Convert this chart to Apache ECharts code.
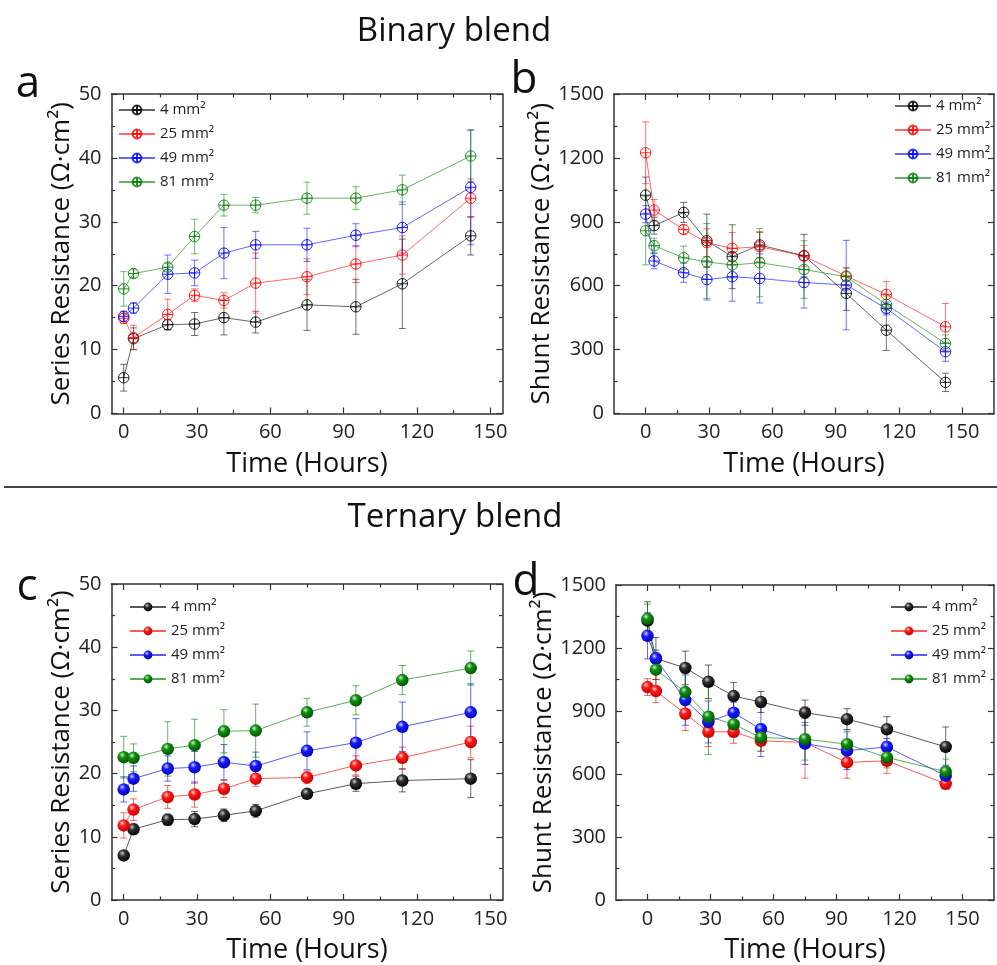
<!DOCTYPE html>
<html>
<head>
<meta charset="utf-8">
<script src="https://cdn.jsdelivr.net/npm/echarts@6/dist/echarts.min.js"></script>
<style>
html,body{margin:0;padding:0;background:#fff;}
#chart{width:997px;height:965px;}
</style>
</head>
<body>
<div id="chart"></div>
<script>
// ---------------- DATA ----------------
const hours = [0, 4, 18, 29, 41, 54, 75, 95, 114, 142];
const sizeLabels = ['4 mm²', '25 mm²', '49 mm²', '81 mm²'];
const xTicks = [0, 30, 60, 90, 120, 150];
const xMinorTicks = [15, 45, 75, 105, 135];

// (a) Binary blend – series resistance (Ω·cm²)
const a4 = [5.6, 11.7, 13.9, 14.0, 15.0, 14.3, 17.0, 16.7, 20.3, 27.8];
const a4Err = [2.1, 1.7, 0.8, 1.8, 2.7, 1.7, 4.0, 4.3, 7.0, 3.0];
const a25 = [14.9, 11.9, 15.5, 18.5, 17.7, 20.4, 21.4, 23.4, 24.8, 33.7];
const a25Err = [0.8, 1.9, 2.4, 1.0, 1.2, 4.7, 2.8, 2.9, 3.0, 3.0];
const a49 = [15.2, 16.5, 21.8, 22.0, 25.1, 26.4, 26.4, 27.9, 29.1, 35.4];
const a49Err = [0.8, 0.8, 3.0, 2.0, 4.0, 2.1, 2.6, 1.8, 4.0, 9.0];
const a81 = [19.5, 21.9, 22.9, 27.7, 32.6, 32.6, 33.7, 33.7, 35.0, 40.3];
const a81Err = [2.7, 0.6, 0.6, 2.7, 1.7, 1.2, 2.5, 1.8, 2.3, 4.0];

// (b) Binary blend – shunt resistance (Ω·cm²)
const b4 = [1025, 882, 944, 811, 736, 791, 741, 564, 391, 146];
const b4Err = [85, 40, 47, 125, 150, 60, 100, 80, 95, 43];
const b25 = [1224, 955, 864, 802, 775, 783, 739, 645, 559, 407];
const b25Err = [145, 50, 20, 65, 75, 70, 50, 40, 60, 110];
const b49 = [936, 716, 661, 629, 642, 634, 615, 603, 493, 290];
const b49Err = [40, 37, 45, 90, 115, 115, 120, 210, 30, 45];
const b81 = [858, 788, 731, 712, 697, 708, 676, 642, 512, 329];
const b81Err = [160, 35, 55, 180, 60, 160, 135, 40, 40, 40];

// (c) Ternary blend – series resistance (Ω·cm²)
const c4 = [7.05, 11.2, 12.7, 12.8, 13.4, 14.1, 16.8, 18.4, 18.9, 19.2];
const c4Err = [0.7, 0.8, 0.9, 1.2, 1.0, 1.0, 0.6, 1.2, 1.8, 3.0];
const c25 = [11.8, 14.3, 16.3, 16.7, 17.6, 19.2, 19.4, 21.3, 22.5, 25.0];
const c25Err = [2.0, 1.7, 1.8, 2.0, 1.4, 1.2, 1.0, 1.5, 1.7, 2.5];
const c49 = [17.5, 19.2, 20.8, 21.0, 21.8, 21.2, 23.6, 24.9, 27.4, 29.7];
const c49Err = [2.0, 2.0, 2.0, 2.5, 2.8, 2.2, 3.0, 3.8, 3.9, 4.5];
const c81 = [22.6, 22.5, 23.9, 24.5, 26.7, 26.8, 29.7, 31.6, 34.8, 36.7];
const c81Err = [3.3, 2.2, 4.3, 4.1, 3.4, 4.2, 2.2, 2.3, 2.3, 2.7];

// (d) Ternary blend – shunt resistance (Ω·cm²)
const d4 = [1330, 1150, 1105, 1039, 971, 943, 892, 861, 813, 729];
const d4Err = [90, 100, 80, 80, 65, 50, 60, 50, 60, 95];
const d25 = [1014, 995, 887, 801, 801, 758, 750, 655, 663, 553];
const d25Err = [40, 55, 80, 70, 55, 50, 170, 75, 60, 25];
const d49 = [1258, 1150, 952, 848, 892, 813, 745, 711, 729, 592];
const d49Err = [110, 40, 120, 100, 50, 130, 100, 90, 40, 50];
const d81 = [1339, 1097, 990, 873, 837, 774, 766, 742, 679, 611];
const d81Err = [70, 80, 90, 180, 60, 65, 100, 70, 50, 60];

// ---------------- STYLE ----------------
const FONT = "'Open Sans', 'Noto Sans', sans-serif";
const COLORS = ['#000000', '#ff0000', '#0000ff', '#008000'];
const BALL = [
  ['#c8c8c8', '#303030', '#000000'],
  ['#ffd4d4', '#ff1a1a', '#c00000'],
  ['#d4d4ff', '#1a1aff', '#0000b0'],
  ['#c8f0c8', '#109010', '#005200']
];
const AXC = '#333';
const CROSS = 'path://M10,0A10,10,0,1,1,10,20A10,10,0,1,1,10,0ZM10,0L10,20M0,10L20,10';

const panels = [
  {key: 'a', grid: {left: 111.5, top: 94, width: 391, height: 319.5}, xmin: -5, xmax: 155,
   ymax: 50, yint: 10, yname: 'Series Resistance (Ω·cm²)', yGap: 36,
   vals: [a4, a25, a49, a81], errs: [a4Err, a25Err, a49Err, a81Err], hollow: true,
   legend: {left: 118, top: 101}},
  {key: 'b', grid: {left: 614, top: 94, width: 380, height: 319.5}, xmin: -15, xmax: 165,
   ymax: 1500, yint: 300, yname: 'Shunt Resistance (Ω·cm²)', yGap: 54,
   vals: [b4, b25, b49, b81], errs: [b4Err, b25Err, b49Err, b81Err], hollow: true,
   legend: {left: 894, top: 97}},
  {key: 'c', grid: {left: 111.5, top: 584, width: 391, height: 316.7}, xmin: -5, xmax: 155,
   ymax: 50, yint: 10, yname: 'Series Resistance (Ω·cm²)', yGap: 36,
   vals: [c4, c25, c49, c81], errs: [c4Err, c25Err, c49Err, c81Err], hollow: false,
   legend: {left: 129, top: 598}},
  {key: 'd', grid: {left: 616, top: 585, width: 378, height: 316.7}, xmin: -15, xmax: 165,
   ymax: 1500, yint: 300, yname: 'Shunt Resistance (Ω·cm²)', yGap: 54,
   vals: [d4, d25, d49, d81], errs: [d4Err, d25Err, d49Err, d81Err], hollow: false,
   legend: {left: 890, top: 598}}
];

const grids = [], xAxes = [], yAxes = [], series = [], legends = [];

function errRender(color, alpha) {
  return function (params, api) {
    const x = api.value(0), lo = api.value(1), hi = api.value(2);
    const p1 = api.coord([x, lo]), p2 = api.coord([x, hi]);
    const w = 3.5;
    const st = {stroke: color, lineWidth: 1, opacity: alpha};
    return {type: 'group', children: [
      {type: 'line', shape: {x1: p1[0], y1: p1[1], x2: p2[0], y2: p2[1]}, style: st},
      {type: 'line', shape: {x1: p1[0] - w, y1: p1[1], x2: p1[0] + w, y2: p1[1]}, style: st},
      {type: 'line', shape: {x1: p2[0] - w, y1: p2[1], x2: p2[0] + w, y2: p2[1]}, style: st}
    ]};
  };
}

panels.forEach((p, gi) => {
  grids.push(Object.assign({containLabel: false}, p.grid));
  const xBase = xAxes.length, yBase = yAxes.length;
  const lineSt = {color: AXC, width: 1.5};
  const tickSt = {color: AXC, width: 1.2};
  // bottom major (labels)
  xAxes.push({gridIndex: gi, type: 'value', position: 'bottom', min: p.xmin, max: p.xmax,
    axisLine: {show: true, onZero: false, lineStyle: lineSt},
    axisTick: {show: true, inside: true, length: 6, customValues: xTicks, lineStyle: tickSt},
    axisLabel: {show: true, customValues: xTicks, margin: 9, fontSize: 20, color: '#222', fontFamily: FONT},
    splitLine: {show: false},
    name: 'Time (Hours)', nameLocation: 'middle', nameGap: 37,
    nameTextStyle: {fontSize: 27, color: '#111', fontFamily: FONT}});
  // bottom minor ticks
  xAxes.push({gridIndex: gi, type: 'value', position: 'bottom', min: p.xmin, max: p.xmax,
    axisLine: {show: false, onZero: false},
    axisTick: {show: true, inside: true, length: 3.5, customValues: xMinorTicks, lineStyle: tickSt},
    axisLabel: {show: false}, splitLine: {show: false}});
  // top major
  xAxes.push({gridIndex: gi, type: 'value', position: 'top', min: p.xmin, max: p.xmax,
    axisLine: {show: true, onZero: false, lineStyle: lineSt},
    axisTick: {show: true, inside: true, length: 6, customValues: xTicks, lineStyle: tickSt},
    axisLabel: {show: false}, splitLine: {show: false}});
  // top minor
  xAxes.push({gridIndex: gi, type: 'value', position: 'top', min: p.xmin, max: p.xmax,
    axisLine: {show: false, onZero: false},
    axisTick: {show: true, inside: true, length: 3.5, customValues: xMinorTicks, lineStyle: tickSt},
    axisLabel: {show: false}, splitLine: {show: false}});
  // left
  yAxes.push({gridIndex: gi, type: 'value', position: 'left', min: 0, max: p.ymax, interval: p.yint,
    axisLine: {show: true, onZero: false, lineStyle: lineSt},
    axisTick: {show: true, inside: true, length: 6, lineStyle: tickSt},
    minorTick: {show: true, splitNumber: 2, length: 3.5, lineStyle: tickSt},
    axisLabel: {show: true, margin: 10, fontSize: 20, color: '#222', fontFamily: FONT,
      formatter: v => String(v)},
    splitLine: {show: false},
    name: p.yname, nameLocation: 'middle', nameGap: p.yGap,
    nameTextStyle: {fontSize: 26, color: '#111', fontFamily: FONT}});
  // right
  yAxes.push({gridIndex: gi, type: 'value', position: 'right', min: 0, max: p.ymax, interval: p.yint,
    axisLine: {show: true, onZero: false, lineStyle: lineSt},
    axisTick: {show: true, inside: true, length: 6, lineStyle: tickSt},
    minorTick: {show: true, splitNumber: 2, length: 3.5, lineStyle: tickSt},
    axisLabel: {show: false}, splitLine: {show: false}});

  const legendNames = [];
  p.vals.forEach((vals, si) => {
    const name = p.key + ':' + sizeLabels[si];
    legendNames.push(name);
    const col = COLORS[si];
    const errData = hours.map((h, i) => [h, vals[i] - p.errs[si][i], vals[i] + p.errs[si][i]]);
    series.push({type: 'custom', name: p.key + '-err-' + si, xAxisIndex: xBase, yAxisIndex: yBase,
      renderItem: errRender(col, p.hollow ? 0.55 : 0.6), data: errData,
      encode: {x: 0, y: [1, 2]}, z: 1, silent: true});
    const lineData = hours.map((h, i) => [h, vals[i]]);
    let s;
    if (p.hollow) {
      s = {type: 'line', name: name, xAxisIndex: xBase, yAxisIndex: yBase, data: lineData,
        symbol: CROSS, symbolSize: 10.5, showSymbol: true,
        lineStyle: {color: col, width: 1, opacity: 0.6},
        itemStyle: {color: 'rgba(255,255,255,0)', borderColor: col, borderWidth: 1, opacity: 0.85},
        z: 3, animation: false};
    } else {
      const g = BALL[si];
      s = {type: 'line', name: name, xAxisIndex: xBase, yAxisIndex: yBase, data: lineData,
        symbol: 'circle', symbolSize: 12.5, showSymbol: true,
        lineStyle: {color: col, width: 1, opacity: 0.65},
        itemStyle: {color: {type: 'radial', x: 0.38, y: 0.32, r: 0.7,
          colorStops: [{offset: 0, color: g[0]}, {offset: 0.35, color: g[1]}, {offset: 1, color: g[2]}]},
          borderWidth: 0},
        z: 3, animation: false};
    }
    series.push(s);
  });
  legends.push({data: legendNames, orient: 'vertical', left: p.legend.left, top: p.legend.top,
    padding: 0, itemWidth: 36, itemHeight: 11, itemGap: 6,
    formatter: n => n.split(':')[1],
    textStyle: {fontSize: 15, color: '#222', fontFamily: FONT, lineHeight: 18},
    selectedMode: false});
});

const txt = (x, y, text, size) => ({type: 'text', x: x, y: y,
  style: {text: text, fontSize: size, fontFamily: FONT, fill: '#111', textAlign: 'center', textVerticalAlign: 'middle'}});

const option = {
  backgroundColor: '#ffffff',
  animation: false,
  grid: grids,
  xAxis: xAxes,
  yAxis: yAxes,
  legend: legends,
  series: series,
  graphic: [
    txt(454, 32, 'Binary blend', 33),
    txt(455, 518, 'Ternary blend', 33),
    txt(28, 84, 'a', 44),
    txt(524, 80, 'b', 44),
    txt(27, 587, 'c', 44),
    txt(526, 582, 'd', 44),
    {type: 'line', shape: {x1: 4, y1: 487, x2: 997, y2: 487}, style: {stroke: '#444', lineWidth: 2.2}}
  ]
};

const chart = echarts.init(document.getElementById('chart'), null, {renderer: 'canvas'});
chart.setOption(option);
</script>
</body>
</html>
